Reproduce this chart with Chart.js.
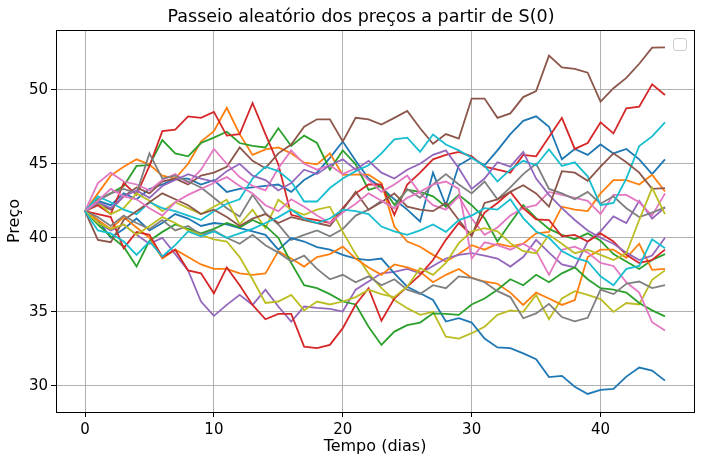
<!DOCTYPE html>
<html><head><meta charset="utf-8">
<script src="https://cdn.jsdelivr.net/npm/chart.js@4.4.1/dist/chart.umd.min.js"></script>
<style>html,body{margin:0;padding:0;background:#fff}#wrap{width:702px;height:462px}</style>
</head><body><div id="wrap"><canvas id="c" width="702" height="462"></canvas></div>
<script>
const days = [0,1,2,3,4,5,6,7,8,9,10,11,12,13,14,15,16,17,18,19,20,21,22,23,24,25,26,27,28,29,30,31,32,33,34,35,36,37,38,39,40,41,42,43,44,45];
const xTicks = [0,10,20,30,40];
const yTicks = [30,35,40,45,50];
const titleText = 'Passeio aleatório dos preços a partir de S(0)';

const blue1 = [41.8,42.5,42.2,43.0,42.6,43.3,43.6,44.0,44.0,43.6,43.9,43.1,43.3,43.4,43.5,43.6,43.1,43.9,44.4,45.4,46.5,45.2,44.0,43.4,42.6,41.9,41.1,44.4,42.2,44.9,45.4,44.9,45.9,47.0,47.9,48.2,47.5,45.3,46.0,45.6,46.3,45.7,46.0,45.3,44.3,45.3];
const orange1 = [41.8,43.0,44.2,44.8,45.3,44.95,44.2,44.0,45.0,46.5,47.2,48.78,47.0,45.6,45.97,46.1,45.7,45.07,44.96,45.7,44.25,44.26,44.26,43.7,40.76,39.75,39.4,38.85,38.4,38.9,39.5,39.2,39.6,39.4,39.6,40.3,40.4,42.1,41.9,41.8,43.0,43.9,43.9,43.6,44.26,43.13];
const green1 = [41.8,42.6,43.0,43.5,44.85,44.9,46.6,45.7,45.5,46.4,46.76,47.16,46.4,46.2,46.1,47.4,46.2,46.9,46.4,44.6,45.9,44.96,43.24,43.5,42.23,43.24,43.1,42.8,42.1,42.9,42.2,41.33,39.75,41.0,42.2,41.33,40.6,40.2,39.9,40.3,39.8,38.9,38.4,37.9,38.5,38.9];
const red1 = [41.8,42.2,41.6,43.7,42.9,44.85,47.2,47.3,48.2,48.1,48.5,46.9,47.0,49.1,47.0,44.95,41.55,41.33,41.2,41.0,42.0,43.0,43.6,43.6,41.55,43.6,44.4,45.3,45.6,45.8,45.5,44.8,44.6,44.4,45.6,45.5,46.8,48.1,46.0,46.4,47.8,47.05,48.74,48.85,50.36,49.64];
const purple1 = [41.8,41.0,40.5,40.9,40.2,39.6,40.0,38.9,37.8,35.7,34.73,35.47,36.15,35.47,36.5,35.36,34.35,35.36,35.27,35.2,35.02,36.5,37.05,37.6,37.7,37.9,37.6,38.1,38.6,38.85,38.96,38.8,38.6,38.06,38.7,39.86,39.0,38.2,38.0,39.75,40.43,41.44,41.0,42.5,41.3,42.06];
const brown1 = [41.8,42.3,41.9,42.8,43.4,43.0,43.8,44.0,43.6,44.2,44.4,44.8,46.1,45.2,44.7,45.7,46.3,47.5,48.0,48.0,46.5,48.1,48.0,47.65,48.1,48.56,47.4,46.35,47.0,46.7,49.4,49.4,48.1,48.4,49.5,49.9,52.3,51.5,51.4,51.15,49.2,50.1,50.8,51.75,52.84,52.86];
const pink1 = [41.8,43.7,44.4,43.8,43.6,43.2,43.9,44.3,43.7,44.6,46.0,45.0,44.1,43.5,43.2,44.7,45.9,45.0,44.6,44.9,44.3,44.7,43.9,43.1,43.6,44.2,43.0,42.2,41.9,42.8,41.3,40.2,40.7,41.5,42.0,42.2,43.1,42.9,42.7,42.5,41.6,42.9,42.9,42.4,41.5,43.0];
const gray1 = [41.8,42.5,43.0,43.3,43.0,45.7,44.0,44.2,43.8,43.4,42.7,42.0,41.44,42.9,41.66,40.9,39.86,40.2,40.5,40.1,40.6,41.5,41.9,42.5,42.0,43.3,42.7,43.6,44.3,43.6,43.0,43.8,42.6,43.4,44.3,45.0,43.3,43.0,42.6,43.1,42.3,42.8,42.0,41.4,41.7,42.06];
const olive1 = [41.8,42.4,41.6,42.0,43.0,42.5,41.8,42.4,42.0,41.6,42.1,42.57,40.9,41.9,40.65,42.57,41.9,41.55,41.9,42.1,40.4,38.9,37.6,36.6,35.8,35.25,34.8,35.0,33.33,33.2,33.56,34.0,34.8,35.1,35.0,36.15,34.5,35.9,36.4,36.15,35.86,35.0,35.6,35.5,37.16,37.8];
const cyan1 = [41.8,42.8,42.4,41.9,41.6,42.4,42.0,41.8,41.5,41.2,41.8,42.3,42.6,44.0,44.8,44.5,43.8,42.45,42.45,43.36,44.0,44.5,44.9,45.7,46.65,46.76,45.8,46.98,46.3,45.9,45.4,44.85,43.8,44.6,45.2,44.9,45.97,44.85,45.1,44.15,42.2,42.35,44.0,46.2,46.85,47.8];
const blue2 = [41.8,41.2,40.0,40.6,41.3,40.5,41.0,41.6,41.3,40.8,41.0,40.9,40.65,40.43,40.2,39.2,39.98,39.75,39.37,39.2,38.85,38.6,38.5,38.6,37.6,36.7,36.26,35.8,34.35,34.57,34.28,33.2,32.6,32.55,32.2,31.8,30.6,30.68,29.95,29.46,29.73,29.8,30.63,31.24,31.04,30.36];
const orange2 = [41.8,41.2,40.6,41.4,40.7,40.0,38.6,39.2,38.7,38.2,37.9,37.9,37.6,37.5,37.6,39.1,38.6,38.06,38.7,38.9,39.4,38.6,38.0,37.5,38.2,38.0,37.7,37.0,37.5,37.9,37.3,37.05,36.9,36.3,35.47,36.3,35.9,35.47,35.8,38.7,39.2,39.2,38.65,39.6,37.84,37.9];
const green2 = [41.8,40.9,40.1,39.4,38.06,39.8,40.4,40.9,40.6,40.3,40.6,41.0,40.7,41.2,40.8,40.0,38.3,36.8,36.6,36.2,35.7,35.5,34.0,32.77,33.67,34.1,34.28,34.9,34.86,34.8,35.5,35.9,36.5,37.2,36.8,37.5,37.0,37.6,38.0,37.2,36.6,36.5,36.3,35.6,35.1,34.7];
const red2 = [41.8,41.6,41.4,39.3,40.4,40.2,38.7,39.2,37.8,37.6,36.25,38.0,36.8,35.47,34.5,34.86,34.86,32.65,32.55,32.77,33.9,35.5,36.6,34.4,35.9,36.7,37.5,38.5,39.86,41.0,40.2,41.7,42.35,43.1,42.0,41.25,41.2,40.1,40.2,39.75,40.3,39.75,38.85,38.3,38.5,39.2];
const purple2 = [41.8,42.4,42.0,42.8,43.2,42.7,43.5,43.9,44.3,44.0,43.8,44.5,45.0,44.2,43.9,43.2,43.7,44.6,44.3,44.9,45.3,44.6,45.2,44.4,44.0,44.6,45.0,45.6,45.9,44.7,43.3,44.0,45.1,44.8,45.8,44.0,42.9,42.0,41.2,40.5,40.0,39.6,39.0,38.5,38.8,40.0];
const brown2 = [41.8,39.86,39.7,41.2,41.8,42.4,43.0,42.6,42.2,41.6,41.9,41.4,40.8,41.3,41.6,41.0,41.4,41.2,41.0,40.8,41.9,43.1,41.9,42.4,43.0,42.1,41.9,41.8,42.35,41.2,40.1,42.35,42.6,43.1,43.55,43.0,42.1,44.5,44.4,43.85,44.8,45.7,45.1,44.4,43.3,43.35];
const pink2 = [41.8,42.5,43.3,42.8,42.6,42.0,41.5,42.4,42.9,43.3,43.7,44.1,43.5,43.0,42.2,41.8,42.6,42.1,41.5,41.0,41.7,42.3,43.0,42.5,42.0,42.7,43.1,43.6,43.8,43.3,38.6,39.7,39.5,39.2,39.6,39.1,37.5,39.2,39.4,39.0,38.3,38.1,37.0,36.3,34.3,33.74];
const gray2 = [41.8,41.4,40.8,41.5,41.0,40.6,41.2,40.5,40.8,40.2,40.5,40.0,39.6,40.2,39.5,39.0,38.4,38.8,37.9,37.2,37.5,37.0,37.4,36.8,37.2,36.5,36.2,36.8,36.6,37.4,37.3,37.0,36.4,36.0,34.57,34.9,35.54,34.65,34.36,34.6,36.5,36.2,36.9,37.05,36.6,36.8];
const olive2 = [41.8,41.0,40.6,40.9,40.2,40.8,41.4,41.0,40.5,40.2,39.9,39.75,38.7,37.2,35.6,35.7,36.15,35.1,35.7,35.5,35.7,36.0,36.5,36.2,36.0,36.7,37.95,37.5,38.3,39.64,40.43,40.65,40.43,39.64,39.1,38.96,40.2,39.6,38.96,39.2,38.85,38.5,38.96,41.2,43.36,41.6];
const cyan2 = [41.8,40.5,40.3,39.75,38.85,39.75,38.74,39.5,40.43,40.1,40.43,40.0,40.3,40.6,41.0,41.4,41.9,41.3,41.0,41.3,41.9,41.8,41.6,40.76,40.43,40.2,40.5,40.9,40.4,41.2,41.5,42.0,41.9,42.6,41.33,40.43,40.0,39.1,38.65,38.4,37.4,36.8,37.9,38.1,39.9,39.3];

const seriesList = [blue1,orange1,green1,red1,purple1,brown1,pink1,gray1,olive1,cyan1,blue2,orange2,green2,red2,purple2,brown2,pink2,gray2,olive2,cyan2];
const palette = ['#1f77b4','#ff7f0e','#2ca02c','#d62728','#9467bd','#8c564b','#e377c2','#7f7f7f','#bcbd22','#17becf'];

Chart.defaults.font.family = "'DejaVu Sans', sans-serif";
Chart.defaults.color = '#000';

const datasets = seriesList.map((vals, i) => ({
  data: days.map((d, j) => ({x: d, y: vals[j]})),
  borderColor: palette[i % 10],
  backgroundColor: palette[i % 10],
  borderWidth: 1.8,
  pointRadius: 0,
  tension: 0,
  fill: false,
  order: -i
}));

const frame = {
  id: 'frame',
  afterDraw(chart) {
    const {ctx, chartArea: a} = chart;
    ctx.save();
    ctx.strokeStyle = '#000';
    ctx.lineWidth = 1;
    ctx.strokeRect(Math.round(a.left) + 0.5, Math.round(a.top) + 0.5, Math.round(a.right - a.left), Math.round(a.bottom - a.top));
    ctx.beginPath();
    ctx.fillStyle = 'rgba(255,255,255,0.8)';
    ctx.strokeStyle = '#cccccc';
    ctx.roundRect(673.5, 38.5, 13, 12, 2.5);
    ctx.fill();
    ctx.stroke();
    ctx.fillStyle = '#000';
    ctx.font = "17.5px 'DejaVu Sans', sans-serif";
    ctx.textAlign = 'center';
    ctx.textBaseline = 'middle';
    ctx.fillText(titleText, 361, 17);
    ctx.restore();
  }
};

new Chart(document.getElementById('c'), {
  type: 'line',
  data: {datasets},
  options: {
    responsive: false,
    animation: false,
    devicePixelRatio: 1,
    layout: {padding: {left: 0, right: 8, top: 30, bottom: 0}},
    plugins: {
      legend: {display: false},
      tooltip: {enabled: false},
      title: {display: false}
    },
    scales: {
      x: {
        type: 'linear',
        min: -2.25,
        max: 47.25,
        afterBuildTicks: s => { s.ticks = xTicks.map(v => ({value: v})); },
        afterFit: s => { s.height = 50; },
        ticks: {font: {size: 15}, color: '#000', padding: 4, maxRotation: 0},
        grid: {color: '#b0b0b0', lineWidth: 1, tickColor: '#000', tickLength: 5},
        border: {display: false},
        title: {display: true, text: 'Tempo (dias)', font: {size: 16}, color: '#000', padding: {top: 0, bottom: 6}}
      },
      y: {
        type: 'linear',
        min: 28.24,
        max: 54.03,
        afterBuildTicks: s => { s.ticks = yTicks.map(v => ({value: v})); },
        afterFit: s => { s.width = 56; },
        ticks: {font: {size: 15}, color: '#000', padding: 3},
        grid: {color: '#b0b0b0', lineWidth: 1, tickColor: '#000', tickLength: 5},
        border: {display: false},
        title: {display: true, text: 'Preço', font: {size: 16}, color: '#000', padding: {top: 5, bottom: 0}}
      }
    }
  },
  plugins: [frame]
});
</script>
</body></html>
